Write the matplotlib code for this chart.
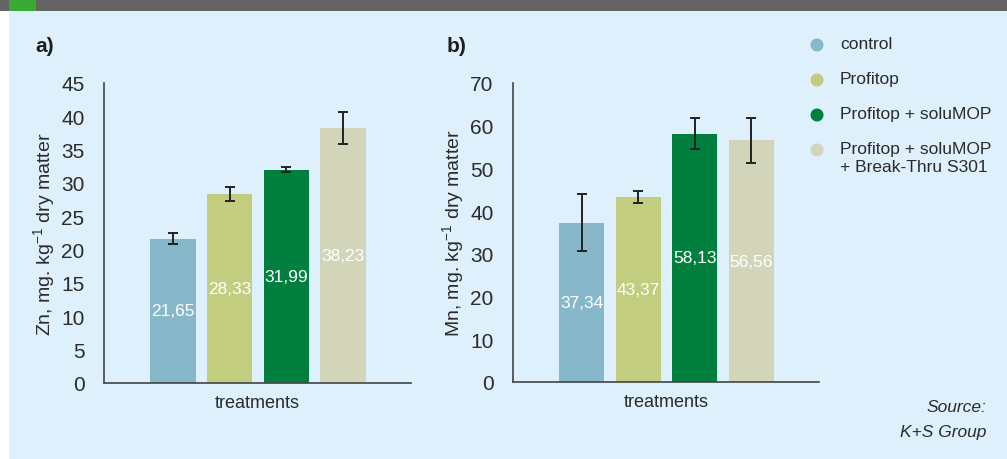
import matplotlib.pyplot as plt
from matplotlib.patches import Rectangle, Ellipse

plt.rcParams['font.family'] = ['Liberation Sans Narrow', 'Liberation Sans', 'DejaVu Sans']

treatments = ["control", "Profitop", "Profitop + soluMOP",
              "Profitop + soluMOP\n+ Break-Thru S301"]
colors = ["#87b8c9", "#c3cd80", "#007f3f", "#d3d5bb"]

zn_values = [21.65, 28.33, 31.99, 38.23]
zn_errors = [0.8, 1.05, 0.4, 2.4]
zn_labels = ["21,65", "28,33", "31,99", "38,23"]

mn_values = [37.34, 43.37, 58.13, 56.56]
mn_errors = [6.7, 1.45, 3.6, 5.3]
mn_labels = ["37,34", "43,37", "58,13", "56,56"]

bg = "#def0fc"
txt = "#2b2b2b"
W, H = 1007, 460

fig = plt.figure(figsize=(W / 100, H / 100), dpi=100)
fig.patch.set_facecolor("white")
fig.patches.append(Rectangle((9 / W, 0), 1, 1, transform=fig.transFigure,
                             facecolor=bg, edgecolor="none", zorder=-10))
fig.patches.append(Rectangle((0, 1 - 12 / H), 1, 12 / H, transform=fig.transFigure,
                             facecolor="#646464", edgecolor="none", zorder=-5))
fig.patches.append(Rectangle((9 / W, 1 - 12 / H), 27 / W, 12 / H,
                             transform=fig.transFigure,
                             facecolor="#3aaa35", edgecolor="none", zorder=-4))


def panel(rect, values, errors, labels, ymax, step, ylabel):
    ax = fig.add_axes(rect)
    ax.set_facecolor("none")
    x = range(len(values))
    ax.bar(x, values, width=0.8, color=colors, zorder=2)
    ax.errorbar(x, values, yerr=errors, fmt="none", ecolor="#222222",
                elinewidth=1.4, capsize=3.5, capthick=1.4, zorder=3)
    for xi, v, lab in zip(x, values, labels):
        ax.text(xi, v / 2, lab, ha="center", va="center", color="white",
                fontsize=12.5, zorder=4)
    ax.set_xlim(-1.22, 4.2)
    ax.set_ylim(0, ymax)
    ax.set_yticks(range(0, ymax + 1, step))
    ax.tick_params(axis="y", length=0, labelsize=15, colors=txt, pad=14)
    ax.set_xticks([])
    ax.set_xlabel("treatments", fontsize=13, color=txt, labelpad=8)
    ax.set_ylabel(ylabel, fontsize=14, color=txt, labelpad=2)
    for s in ["top", "right"]:
        ax.spines[s].set_visible(False)
    for s in ["left", "bottom"]:
        ax.spines[s].set_color("#444444")
        ax.spines[s].set_linewidth(1.2)
    return ax


panel([104 / W, 1 - 384 / H, 307 / W, 300 / H],
      zn_values, zn_errors, zn_labels, 45, 5,
      "Zn, mg. kg$^{\\mathregular{-1}}$ dry matter")
panel([513 / W, 1 - 383 / H, 306 / W, 299 / H],
      mn_values, mn_errors, mn_labels, 70, 10,
      "Mn, mg. kg$^{\\mathregular{-1}}$ dry matter")

fig.text(35 / W, 1 - 47 / H, "a)", fontsize=15, fontweight="bold",
         color="#1e1e1e", va="center")
fig.text(447 / W, 1 - 47 / H, "b)", fontsize=15, fontweight="bold",
         color="#1e1e1e", va="center")

ys = [46, 81, 116, 151]
for c, name, y in zip(colors, treatments, ys):
    fig.patches.append(Ellipse((817 / W, 1 - y / H), 13 / W, 13 / H,
                               transform=fig.transFigure, facecolor=c,
                               edgecolor="none"))
    fig.text(840 / W, 1 - (y - 9) / H, name, fontsize=12.5, color=txt,
             va="top", linespacing=1.25)

fig.text(986 / W, 1 - 408 / H, "Source:", fontsize=12.5, style="italic",
         color=txt, ha="right", va="center")
fig.text(986 / W, 1 - 433 / H, "K+S Group", fontsize=12.5, style="italic",
         color=txt, ha="right", va="center")

fig.savefig("out.png", dpi=100, facecolor=fig.get_facecolor())
